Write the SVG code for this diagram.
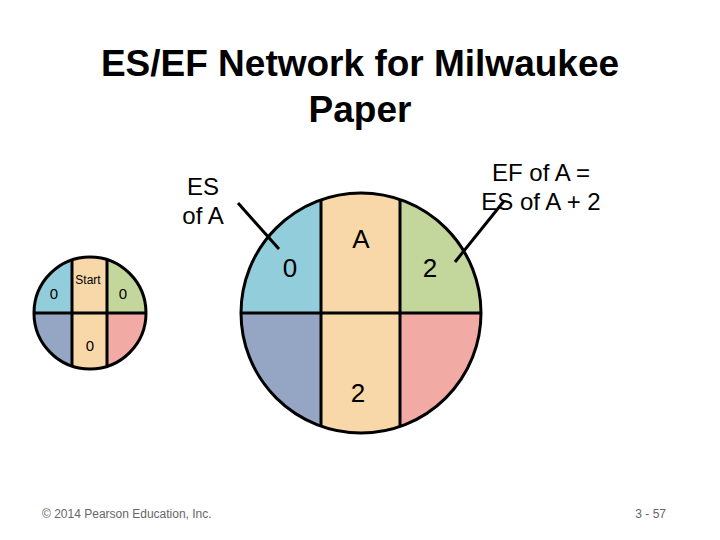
<svg xmlns="http://www.w3.org/2000/svg" width="720" height="540" viewBox="0 0 720 540">
<style>
text{font-family:"Liberation Sans",Arial,sans-serif;fill:#000}
.o{fill:none;stroke:#000;stroke-width:3}
.d{stroke:#000;stroke-width:3}
.b{fill:#92cddc}.g{fill:#c3d69b}.p{fill:#95a6c5}.r{fill:#f2aba4}.t{fill:#f8d7a9}
</style>
<rect width="720" height="540" fill="#fff"/>
<text x="360" y="76" font-size="37" font-weight="bold" text-anchor="middle">ES/EF Network for Milwaukee</text>
<text x="360" y="122" font-size="37" font-weight="bold" text-anchor="middle">Paper</text>
<defs>
<clipPath id="c1"><circle cx="361" cy="313" r="120"/></clipPath>
<clipPath id="c2"><circle cx="90" cy="313" r="56"/></clipPath>
</defs>
<g id="nodeA">
<g clip-path="url(#c1)">
<rect class="b" x="230" y="190" width="91" height="123"/>
<rect class="p" x="230" y="313" width="91" height="125"/>
<rect class="g" x="400" y="190" width="90" height="123"/>
<rect class="r" x="400" y="313" width="90" height="125"/>
<rect class="t" x="321" y="190" width="79" height="250"/>
<path class="d" d="M230 313H490M321 190V440M400 190V440"/>
</g>
<circle class="o" cx="361" cy="313" r="120"/>
<text x="361" y="248" font-size="26" text-anchor="middle">A</text>
<text x="290" y="277" font-size="26" text-anchor="middle">0</text>
<text x="430" y="277" font-size="26" text-anchor="middle">2</text>
<text x="358" y="402" font-size="26" text-anchor="middle">2</text>
</g>
<g id="nodeStart">
<g clip-path="url(#c2)">
<rect class="b" x="30" y="255" width="42" height="58"/>
<rect class="p" x="30" y="313" width="42" height="58"/>
<rect class="g" x="107" y="255" width="42" height="58"/>
<rect class="r" x="107" y="313" width="42" height="58"/>
<rect class="t" x="72" y="255" width="35" height="116"/>
<path class="d" d="M30 313H150M72 255V371M107 255V371"/>
</g>
<circle class="o" cx="90" cy="313" r="56"/>
<text x="88" y="284" font-size="12" text-anchor="middle">Start</text>
<text x="54" y="299" font-size="15" text-anchor="middle">0</text>
<text x="123" y="299" font-size="15" text-anchor="middle">0</text>
<text x="90" y="351" font-size="15" text-anchor="middle">0</text>
</g>
<g id="connectors">
<line class="d" x1="238" y1="203" x2="279" y2="249" stroke-width="4"/>
<line class="d" x1="504" y1="201" x2="455" y2="262" stroke-width="4"/>
</g>
<text x="203" y="195" font-size="24" text-anchor="middle">ES</text>
<text x="203" y="224" font-size="24" text-anchor="middle">of A</text>
<text x="541" y="181" font-size="24" text-anchor="middle">EF of A =</text>
<text x="541" y="210" font-size="24" text-anchor="middle">ES of A + 2</text>
<text x="42" y="518" font-size="12" fill="#555" style="fill:#666">© 2014 Pearson Education, Inc.</text>
<text x="666" y="518" font-size="12" text-anchor="end" style="fill:#666">3 - 57</text>
</svg>
